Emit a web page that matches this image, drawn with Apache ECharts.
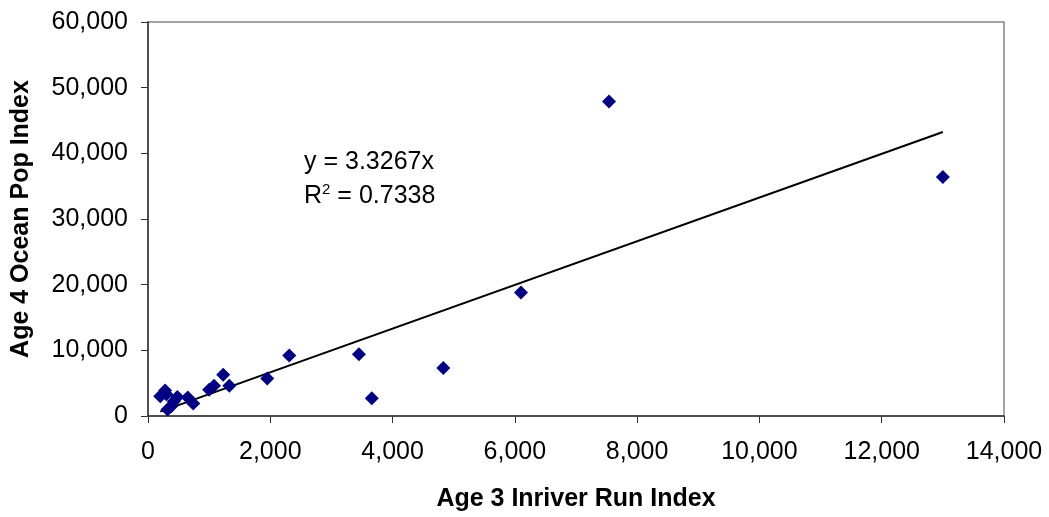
<!DOCTYPE html>
<html>
<head>
<meta charset="utf-8">
<script src="https://cdn.jsdelivr.net/npm/echarts@6/dist/echarts.min.js"></script>
<style>
  html, body { margin: 0; padding: 0; background: #fff; }
  #chart { width: 1049px; height: 517px; }
</style>
</head>
<body>
<div id="chart"></div>
<script>
// Age 3 inriver run index vs age 4 ocean population index
var runIndex = [200, 280, 300, 320, 380, 420, 480, 650, 740, 1000, 1080, 1230, 1330, 1950, 2310, 3450, 3660, 4830, 6100, 7540, 13000];
var popIndex = [3000, 3900, 3300, 1000, 1500, 2200, 2900, 2800, 1900, 4000, 4600, 6300, 4600, 5700, 9200, 9400, 2700, 7300, 18800, 47900, 36400];
var slope = 3.3267;
var rSquared = '0.7338';
var xTicks = [0, 14000, 2000];
var yTicks = [0, 60000, 10000];

var points = runIndex.map(function (x, i) { return [x, popIndex[i]]; });
var xMin = Math.min.apply(null, runIndex);
var xMax = Math.max.apply(null, runIndex);
var trend = [[xMin, slope * xMin], [xMax, slope * xMax]];

var fmt = function (v) { return v.toLocaleString('en-US'); };
var font = 'Liberation Sans, Arial, sans-serif';

var chart = echarts.init(document.getElementById('chart'));
chart.setOption({
  animation: false,
  backgroundColor: '#fff',
  grid: {
    left: 148, right: 45, top: 22, bottom: 99,
    show: true, borderColor: '#888', borderWidth: 1.5
  },
  xAxis: {
    type: 'value',
    min: xTicks[0], max: xTicks[1], interval: xTicks[2],
    name: 'Age 3 Inriver Run Index',
    nameLocation: 'middle', nameGap: 71,
    nameTextStyle: { fontFamily: font, fontSize: 25, fontWeight: 'bold', color: '#000' },
    axisLine: { onZero: false, lineStyle: { color: '#333', width: 1.5 } },
    axisTick: { show: true, length: 7, lineStyle: { color: '#333' } },
    axisLabel: { formatter: fmt, fontFamily: font, fontSize: 25, color: '#000', margin: 24 },
    splitLine: { show: false }
  },
  yAxis: {
    type: 'value',
    min: yTicks[0], max: yTicks[1], interval: yTicks[2],
    name: 'Age 4 Ocean Pop Index',
    nameLocation: 'middle', nameGap: 114,
    nameTextStyle: { fontFamily: font, fontSize: 25, fontWeight: 'bold', color: '#000' },
    axisLine: { onZero: false, lineStyle: { color: '#333', width: 1.5 } },
    axisTick: { show: true, length: 7, lineStyle: { color: '#333' } },
    axisLabel: { formatter: fmt, fontFamily: font, fontSize: 25, color: '#000', margin: 20 },
    splitLine: { show: false }
  },
  graphic: [
    {
      type: 'text', left: 304, top: 150,
      style: { text: 'y = ' + slope + 'x', font: '25px ' + font, fill: '#000' }
    },
    {
      type: 'text', left: 304, top: 182,
      style: {
        text: 'R{s|2} = ' + rSquared,
        font: '25px ' + font, fill: '#000',
        rich: {
          s: { fontSize: 15, fontFamily: font, verticalAlign: 'top', lineHeight: 28, fill: '#000' }
        }
      }
    }
  ],
  series: [
    {
      type: 'line',
      data: trend,
      symbol: 'none',
      silent: true,
      lineStyle: { color: '#000', width: 2 },
      z: 1
    },
    {
      type: 'scatter',
      data: points,
      symbol: 'diamond',
      symbolSize: 14,
      itemStyle: { color: '#000080', opacity: 1 },
      z: 2
    }
  ]
});
</script>
</body>
</html>
